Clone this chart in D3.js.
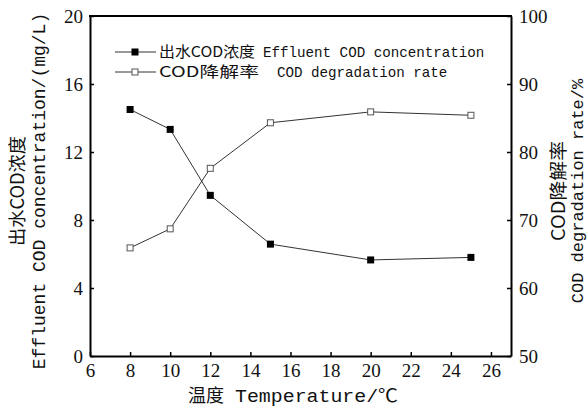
<!DOCTYPE html>
<html><head><meta charset="utf-8">
<script src="https://cdn.jsdelivr.net/npm/d3@7"></script>
<style>
html,body{margin:0;padding:0;background:#fff;}
svg{display:block;}
</style></head>
<body>
<script>
const temperatures = [8, 10, 12, 15, 20, 25];
const effluentCOD = [14.5, 13.33, 9.45, 6.58, 5.65, 5.8];
const degradationRate = [65.9, 68.7, 77.6, 84.3, 85.9, 85.4];
const xTicks = [6, 8, 10, 12, 14, 16, 18, 20, 22, 24, 26];
const yLeftTicks = [0, 4, 8, 12, 16, 20];
const yRightTicks = [50, 60, 70, 80, 90, 100];

const W = 588, H = 413;
const m = {left: 90, right: 77, top: 16, bottom: 57};
const svg = d3.select("body").append("svg").attr("width", W).attr("height", H);

const x = d3.scaleLinear().domain([6, 27]).range([m.left, W - m.right]);
const yL = d3.scaleLinear().domain([0, 20]).range([H - m.bottom, m.top]);
const yR = d3.scaleLinear().domain([50, 100]).range([H - m.bottom, m.top]);

const numFont = "'Liberation Serif', serif";
const monoFont = "'Liberation Mono', 'Noto Sans CJK SC', monospace";
const cjkFont = "'Noto Sans CJK SC', sans-serif";

function styleAxis(g){
  g.select(".domain").attr("stroke","#000").attr("stroke-width",2);
  g.selectAll(".tick line").attr("stroke","#000").attr("stroke-width",1.5);
  g.selectAll(".tick text").attr("font-family",numFont).attr("font-size",19).attr("fill","#111");
}

const gx = svg.append("g").attr("transform",`translate(0,${H-m.bottom})`)
  .call(d3.axisBottom(x).tickValues(xTicks).tickFormat(d3.format("d")).tickSizeInner(-4).tickSizeOuter(0).tickPadding(8));
styleAxis(gx);
const gl = svg.append("g").attr("transform",`translate(${m.left},0)`)
  .call(d3.axisLeft(yL).tickValues(yLeftTicks).tickFormat(d3.format("d")).tickSizeInner(-4).tickSizeOuter(0).tickPadding(7));
styleAxis(gl);
const gr = svg.append("g").attr("transform",`translate(${W-m.right},0)`)
  .call(d3.axisRight(yR).tickValues(yRightTicks).tickFormat(d3.format("d")).tickSizeInner(-4).tickSizeOuter(0).tickPadding(8));
styleAxis(gr);
// top border
svg.append("line").attr("x1",m.left-1).attr("x2",W-m.right+1).attr("y1",m.top).attr("y2",m.top)
  .attr("stroke","#000").attr("stroke-width",2);

// lines
const lineL = d3.line().x((d,i)=>x(temperatures[i])).y(d=>yL(d));
const lineR = d3.line().x((d,i)=>x(temperatures[i])).y(d=>yR(d));
svg.append("path").datum(effluentCOD).attr("d",lineL).attr("fill","none").attr("stroke","#333").attr("stroke-width",1);
svg.append("path").datum(degradationRate).attr("d",lineR).attr("fill","none").attr("stroke","#333").attr("stroke-width",1);
const s = 7;
svg.selectAll(".mk1").data(effluentCOD).enter().append("rect")
  .attr("x",(d,i)=>x(temperatures[i])-s/2).attr("y",d=>yL(d)-s/2).attr("width",s).attr("height",s).attr("fill","#000");
svg.selectAll(".mk2").data(degradationRate).enter().append("rect")
  .attr("x",(d,i)=>x(temperatures[i])-s/2+0.5).attr("y",d=>yR(d)-s/2+0.5).attr("width",s-1).attr("height",s-1)
  .attr("fill","#fff").attr("stroke","#555").attr("stroke-width",1);

// legend
const legend = [
  {cn:"出水COD浓度", en:"Effluent COD concentration", cnLen:96, enX:263, filled:true, y:52},
  {cn:"COD降解率", en:"COD degradation rate", cnLen:100, enX:277, filled:false, y:72}
];
legend.forEach(l=>{
  svg.append("line").attr("x1",115).attr("x2",156).attr("y1",l.y).attr("y2",l.y).attr("stroke","#333").attr("stroke-width",1);
  if(l.filled) svg.append("rect").attr("x",135-3.5).attr("y",l.y-3.5).attr("width",7).attr("height",7).attr("fill","#000");
  else svg.append("rect").attr("x",135-3).attr("y",l.y-3).attr("width",6).attr("height",6).attr("fill","#fff").attr("stroke","#555");
  const t = svg.append("text").attr("y",l.y).attr("dy","0.36em").attr("font-size",15).attr("fill","#111");
  t.append("tspan").attr("x",159).attr("font-family",cjkFont)
    .attr("textLength",l.cnLen).attr("lengthAdjust","spacingAndGlyphs").text(l.cn);
  t.append("tspan").attr("x",l.enX).attr("font-family",monoFont).attr("font-size",14.2).text(l.en);
});

// axis titles
const xt = svg.append("text").attr("y",396).attr("dy","0.35em").attr("font-size",18).attr("fill","#111");
xt.append("tspan").attr("x",188).attr("font-family",cjkFont).text("温度");
xt.append("tspan").attr("x",235).attr("font-family",monoFont).attr("textLength",163).attr("lengthAdjust","spacingAndGlyphs").text("Temperature/℃");

const cy = (m.top + H - m.bottom)/2 + 5;
svg.append("text").attr("transform",`translate(18,${cy}) rotate(-90)`).attr("text-anchor","middle").attr("dy","0.35em")
  .attr("font-family",cjkFont).attr("font-size",18).attr("fill","#111")
  .attr("textLength",110).attr("lengthAdjust","spacingAndGlyphs").text("出水COD浓度");
svg.append("text").attr("transform",`translate(39,${cy}) rotate(-90)`).attr("text-anchor","middle").attr("dy","0.35em")
  .attr("font-family",monoFont).attr("font-size",18).attr("fill","#111").text("Effluent COD concentration/(mg/L)");
svg.append("text").attr("transform",`translate(559,${cy}) rotate(-90)`).attr("text-anchor","middle").attr("dy","0.35em")
  .attr("font-family",cjkFont).attr("font-size",18).attr("fill","#111")
  .attr("textLength",100).attr("lengthAdjust","spacingAndGlyphs").text("COD降解率");
svg.append("text").attr("transform",`translate(577,${cy}) rotate(-90)`).attr("text-anchor","middle").attr("dy","0.35em")
  .attr("font-family",monoFont).attr("font-size",17).attr("fill","#111").text("COD degradation rate/%");
</script>
</body></html>
